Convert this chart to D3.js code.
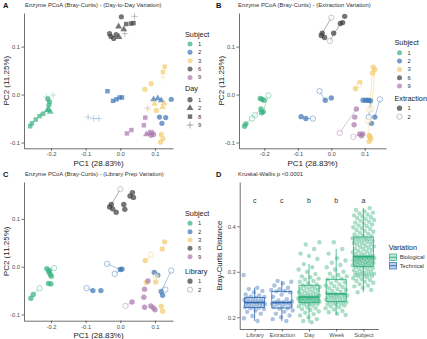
<!DOCTYPE html>
<html>
<head>
<meta charset="utf-8">
<script src="https://cdn.jsdelivr.net/npm/d3@7"></script>
<style>
body { margin: 0; background: #fff; }
svg text { font-family: "Liberation Sans", Arial, sans-serif; }
</style>
</head>
<body>
<svg id="fig" width="427" height="339"></svg>
<script>
var subjects = [1, 2, 3, 6, 9];
var subjectColors = ["#35b07f", "#3a73b5", "#f3cb6b", "#3c3c3c", "#a878ad"];
var dayLevels = [1, 2, 8, 9];
var pc1Ticks = [-0.2, -0.1, 0, 0.1];
var pc2Ticks = [-0.1, 0, 0.1];

// panel A: [PC1, PC2, subject, day]
var dayPoints = [
  [0.003, 0.162, 6, 1], [-0.031, 0.127, 6, 1], [-0.027, 0.121, 6, 1], [-0.019, 0.117, 6, 1], [-0.012, 0.125, 6, 1],
  [-0.005, 0.142, 6, 2], [0.010, 0.136, 6, 2], [-0.004, 0.120, 6, 2],
  [0.017, 0.147, 6, 8], [0.031, 0.148, 6, 8], [0.038, 0.149, 6, 8],
  [0.041, 0.163, 6, 9], [0.013, 0.127, 6, 9],
  [-0.209, -0.009, 1, 1], [-0.204, -0.015, 1, 1], [-0.206, -0.022, 1, 1], [-0.223, -0.040, 1, 1],
  [-0.211, -0.033, 1, 2], [-0.202, -0.036, 1, 2], [-0.207, -0.031, 1, 2],
  [-0.233, -0.045, 1, 8], [-0.244, -0.052, 1, 8], [-0.255, -0.060, 1, 8], [-0.260, -0.066, 1, 8],
  [-0.194, -0.001, 1, 9], [-0.213, -0.005, 1, 9],
  [-0.037, 0.007, 2, 8], [-0.021, -0.013, 2, 8], [-0.011, -0.010, 2, 8], [-0.002, -0.006, 2, 8], [0.005, -0.006, 2, 8],
  [0.096, -0.010, 2, 2], [0.108, -0.008, 2, 2], [0.118, -0.012, 2, 2],
  [0.147, -0.010, 2, 1], [0.113, -0.047, 2, 1], [0.131, -0.048, 2, 1], [0.120, -0.060, 2, 1],
  [-0.093, -0.047, 2, 9], [-0.077, -0.050, 2, 9], [-0.062, -0.050, 2, 9],
  [0.128, 0.058, 3, 8], [0.123, 0.047, 3, 8], [0.123, 0.036, 3, 9],
  [0.089, 0.023, 3, 1], [0.071, 0.011, 3, 1],
  [0.099, -0.019, 3, 2], [0.126, -0.018, 3, 2], [0.104, -0.033, 3, 1], [0.122, -0.026, 3, 2],
  [0.118, -0.083, 3, 1], [0.123, -0.092, 3, 1], [0.116, -0.099, 3, 1], [0.082, -0.032, 3, 9],
  [0.072, -0.048, 9, 8], [0.068, -0.064, 9, 8], [0.032, -0.074, 9, 8], [0.019, -0.081, 9, 8],
  [0.075, -0.083, 9, 2], [0.083, -0.080, 9, 2], [0.089, -0.085, 9, 1], [0.096, -0.083, 9, 1], [0.091, -0.079, 9, 1],
  [0.078, -0.028, 9, 9]
];

// panel B: [PC1, PC2, subject, extraction, pair id (0 = unpaired)]
var extractionPoints = [
  [0.040, 0.163, 6, 1, 0], [0.034, 0.150, 6, 1, 0], [0.027, 0.148, 6, 1, 1], [-0.004, 0.112, 6, 2, 1],
  [0.000, 0.160, 6, 2, 2], [-0.027, 0.128, 6, 1, 2], [-0.030, 0.123, 6, 1, 0], [-0.020, 0.119, 6, 1, 0], [0.007, 0.128, 6, 1, 0],
  [-0.212, -0.008, 1, 1, 0], [-0.207, -0.010, 1, 1, 0], [-0.201, -0.012, 1, 1, 0],
  [-0.188, -0.002, 1, 2, 3], [-0.203, -0.036, 1, 1, 3], [-0.208, -0.038, 1, 1, 0],
  [-0.228, -0.043, 1, 2, 4], [-0.255, -0.061, 1, 1, 4], [-0.237, -0.050, 1, 2, 5], [-0.210, -0.030, 1, 1, 5], [-0.259, -0.066, 1, 1, 0],
  [-0.035, 0.007, 2, 2, 6], [-0.018, -0.012, 2, 1, 6], [0.000, -0.007, 2, 1, 0],
  [-0.090, -0.046, 2, 1, 0], [-0.076, -0.050, 2, 1, 7], [-0.055, -0.050, 2, 2, 7],
  [0.095, -0.012, 2, 1, 0], [0.103, -0.012, 2, 1, 0], [0.110, -0.012, 2, 1, 0],
  [0.145, -0.010, 2, 2, 8], [0.130, -0.047, 2, 1, 8], [0.120, -0.060, 2, 1, 0], [0.112, -0.047, 2, 2, 9], [0.117, -0.013, 2, 1, 9],
  [0.125, 0.057, 3, 1, 0], [0.130, 0.052, 3, 1, 10], [0.120, -0.030, 3, 2, 10], [0.123, 0.045, 3, 1, 11], [0.113, -0.032, 3, 2, 11],
  [0.085, 0.025, 3, 1, 0], [0.072, 0.012, 3, 1, 12], [0.083, 0.020, 3, 2, 12],
  [0.113, -0.085, 3, 1, 0], [0.118, -0.092, 3, 1, 0], [0.113, -0.098, 3, 1, 0], [0.110, -0.055, 3, 2, 13], [0.115, -0.088, 3, 1, 13],
  [0.075, -0.030, 9, 1, 14], [0.025, -0.080, 9, 2, 14], [0.070, -0.047, 9, 1, 0], [0.068, -0.063, 9, 1, 0],
  [0.085, -0.082, 9, 1, 0], [0.090, -0.086, 9, 1, 0], [0.094, -0.082, 9, 1, 15], [0.066, -0.088, 9, 2, 15]
];

// panel C: [PC1, PC2, subject, library, pair id]
var libraryPoints = [
  [0.000, 0.162, 6, 2, 1], [-0.026, 0.130, 6, 1, 1], [-0.031, 0.125, 6, 1, 0], [-0.022, 0.121, 6, 1, 0], [-0.012, 0.114, 6, 1, 0],
  [0.010, 0.130, 6, 1, 0], [0.013, 0.120, 6, 1, 0], [0.028, 0.148, 6, 1, 0], [0.038, 0.145, 6, 1, 0], [0.035, 0.155, 6, 1, 0],
  [-0.212, -0.004, 1, 1, 0], [-0.205, -0.008, 1, 1, 0], [-0.202, -0.016, 1, 1, 0], [-0.199, -0.020, 1, 1, 0],
  [-0.191, -0.003, 1, 2, 2], [-0.206, -0.011, 1, 1, 2],
  [-0.207, -0.035, 1, 1, 0], [-0.200, -0.036, 1, 1, 0],
  [-0.233, -0.045, 1, 2, 3], [-0.251, -0.058, 1, 1, 3], [-0.258, -0.066, 1, 1, 0],
  [-0.038, 0.006, 2, 2, 4], [-0.016, -0.015, 2, 2, 5], [0.000, -0.006, 2, 1, 4], [0.005, -0.005, 2, 1, 5],
  [-0.097, -0.045, 2, 2, 6], [-0.079, -0.050, 2, 1, 6], [-0.056, -0.050, 2, 1, 0],
  [0.098, -0.012, 2, 1, 0], [0.108, -0.018, 2, 1, 0],
  [0.147, -0.008, 2, 2, 7], [0.118, -0.052, 2, 1, 7], [0.122, -0.060, 2, 1, 0], [0.130, -0.048, 2, 2, 0],
  [0.128, 0.052, 3, 1, 0], [0.121, 0.037, 3, 1, 0], [0.088, 0.025, 3, 2, 8], [0.072, 0.013, 3, 1, 8],
  [0.102, -0.032, 3, 1, 0], [0.075, -0.033, 3, 1, 0], [0.103, -0.020, 3, 2, 0],
  [0.118, -0.083, 3, 1, 0], [0.122, -0.093, 3, 1, 0],
  [0.080, -0.030, 9, 1, 0], [0.070, -0.047, 9, 1, 0], [0.068, -0.064, 9, 1, 0], [0.034, -0.074, 9, 1, 9], [0.015, -0.082, 9, 2, 9],
  [0.070, -0.085, 9, 1, 0], [0.088, -0.082, 9, 1, 0], [0.095, -0.086, 9, 1, 0], [0.100, -0.090, 9, 1, 0]
];

// panel D
var variationCats = ["Library", "Extraction", "Day", "Week", "Subject"];
var variationType = ["Technical", "Technical", "Biological", "Biological", "Biological"];
var sigLetters = ["c", "c", "b", "b", "a"];
var distTicks = [0.2, 0.3, 0.4];
var libraryDist = [0.293, 0.265, 0.262, 0.258, 0.255, 0.25, 0.248, 0.246, 0.245, 0.243, 0.242, 0.24, 0.239, 0.238, 0.236, 0.235, 0.234, 0.233,
  0.232, 0.231, 0.23, 0.229, 0.228, 0.226, 0.225, 0.223, 0.222, 0.221, 0.22, 0.218, 0.215, 0.212, 0.208, 0.203, 0.198, 0.192];
var extractionDist = [0.28, 0.278, 0.275, 0.27, 0.265, 0.262, 0.26, 0.258, 0.257, 0.255, 0.25, 0.245, 0.24, 0.237, 0.235, 0.234, 0.233,
  0.232, 0.231, 0.23, 0.229, 0.228, 0.226, 0.224, 0.222, 0.22, 0.219, 0.215, 0.212, 0.208, 0.204, 0.2, 0.196, 0.192];
var dayDist = [0.189, 0.192, 0.196, 0.2, 0.204, 0.207, 0.21, 0.213, 0.216, 0.218, 0.22, 0.222, 0.224, 0.226, 0.228, 0.229, 0.23, 0.231, 0.232,
  0.233, 0.234, 0.235, 0.235, 0.236, 0.237, 0.237, 0.238, 0.239, 0.239, 0.24, 0.24, 0.241, 0.242, 0.242, 0.243, 0.243, 0.244, 0.244,
  0.245, 0.246, 0.247, 0.248, 0.249, 0.25, 0.252, 0.253, 0.255, 0.256, 0.258, 0.26, 0.261, 0.263, 0.264, 0.266, 0.267, 0.268, 0.27,
  0.272, 0.275, 0.278, 0.28, 0.283, 0.285, 0.288, 0.29, 0.295, 0.3, 0.305, 0.31, 0.317, 0.328, 0.335, 0.34, 0.35, 0.36, 0.365];
var weekDist = [0.205, 0.208, 0.211, 0.214, 0.217, 0.22, 0.222, 0.224, 0.226, 0.228, 0.229, 0.23, 0.232, 0.233, 0.234,
  0.235, 0.236, 0.238, 0.239, 0.24, 0.242, 0.243, 0.244, 0.245, 0.246, 0.247, 0.248, 0.249, 0.25, 0.251,
  0.252, 0.254, 0.256, 0.258, 0.26, 0.262, 0.264, 0.266, 0.268, 0.27, 0.272, 0.275, 0.277, 0.28, 0.283,
  0.285, 0.288, 0.29, 0.293, 0.296, 0.3, 0.305, 0.31, 0.315, 0.32, 0.325, 0.33, 0.34, 0.35, 0.365];
var subjectDist = [0.255, 0.26, 0.265, 0.268, 0.27, 0.273, 0.276, 0.278, 0.28, 0.282, 0.284, 0.286, 0.288, 0.29, 0.291, 0.292, 0.293, 0.294,
  0.295, 0.296, 0.297, 0.298, 0.3, 0.301, 0.303, 0.305, 0.306, 0.308, 0.31, 0.311,
  0.312, 0.313, 0.314, 0.315, 0.316, 0.316, 0.317, 0.318, 0.319, 0.32, 0.32, 0.321, 0.322, 0.323, 0.324, 0.325, 0.325, 0.326,
  0.327, 0.328, 0.328, 0.329, 0.33, 0.33, 0.331, 0.331, 0.332, 0.332, 0.333, 0.333,
  0.334, 0.335, 0.337, 0.338, 0.34, 0.341, 0.343, 0.345, 0.346, 0.348, 0.35, 0.351, 0.353, 0.355, 0.356, 0.358, 0.36, 0.361,
  0.363, 0.364, 0.366, 0.367, 0.368, 0.37, 0.371, 0.372, 0.373, 0.374, 0.375, 0.376,
  0.378, 0.38, 0.382, 0.384, 0.386, 0.388, 0.39, 0.392, 0.394, 0.396, 0.398, 0.4, 0.402, 0.404, 0.406, 0.408, 0.41, 0.412,
  0.414, 0.416, 0.418, 0.42, 0.422, 0.424, 0.426, 0.428, 0.43, 0.433, 0.436, 0.44];
var distValues = [libraryDist, extractionDist, dayDist, weekDist, subjectDist];
var variationColors = {Biological: "#2bad78", Technical: "#3069b3"};

var svg = d3.select("#fig");
var color = d3.scaleOrdinal().domain(subjects).range(subjectColors);

function styleAxis(g) {
  g.selectAll("path, line").attr("stroke", "#333").attr("stroke-width", 0.7);
  g.selectAll("text").attr("font-size", 5.8).attr("fill", "#4d4d4d");
}

function heading(x, y, letter, title) {
  svg.append("text").attr("x", x).attr("y", y).attr("font-size", 7.5).attr("font-weight", "bold")
    .attr("fill", "#111").text(letter);
  svg.append("text").attr("x", x + 22).attr("y", y - 1).attr("font-size", 5.9).attr("fill", "#333").text(title);
}

function pcoaAxes(x, y) {
  var fmt = function(d) { return d.toFixed(1); };
  svg.append("g").attr("transform", "translate(0," + y.range()[0] + ")")
    .call(d3.axisBottom(x).tickValues(pc1Ticks).tickFormat(fmt).tickSize(2.5).tickSizeOuter(0).tickPadding(1.5))
    .call(styleAxis);
  svg.append("g").attr("transform", "translate(" + x.range()[0] + ",0)")
    .call(d3.axisLeft(y).tickValues(pc2Ticks).tickFormat(fmt).tickSize(2.5).tickSizeOuter(0).tickPadding(1.5))
    .call(styleAxis);
  var cx = (x.range()[0] + x.range()[1]) / 2;
  var cy = (y.range()[0] + y.range()[1]) / 2;
  svg.append("text").attr("x", cx).attr("y", y.range()[0] + 17.5).attr("text-anchor", "middle")
    .attr("font-size", 8).attr("fill", "#1a1a1a").text("PC1 (28.83%)");
  svg.append("text").attr("transform", "translate(" + (x.range()[0] - 15) + "," + cy + ") rotate(-90)")
    .attr("text-anchor", "middle").attr("font-size", 8).attr("fill", "#1a1a1a").text("PC2 (11.25%)");
}

function subjectLegend(lx, ty) {
  svg.append("text").attr("x", lx).attr("y", ty + 2.6).attr("font-size", 7.3).attr("fill", "#1a1a1a").text("Subject");
  subjects.forEach(function(s, i) {
    var yy = ty + 10 + i * 8.35;
    svg.append("circle").attr("cx", lx + 5).attr("cy", yy).attr("r", 2.5)
      .attr("fill", color(s)).attr("fill-opacity", 0.7);
    svg.append("text").attr("x", lx + 13).attr("y", yy + 2).attr("font-size", 5.8).attr("fill", "#333").text(s);
  });
}

function drawShape(g, kind, cx, cy, fill, op) {
  if (kind === 9) {
    g.append("path").attr("d", "M" + (cx - 3.4) + "," + cy + "H" + (cx + 3.4) + "M" + cx + "," + (cy - 3.4) + "V" + (cy + 3.4))
      .attr("stroke", fill).attr("stroke-width", 0.6).attr("stroke-opacity", op);
  } else if (kind === 1) {
    g.append("circle").attr("cx", cx).attr("cy", cy).attr("r", 2.6).attr("fill", fill).attr("fill-opacity", op);
  } else {
    var sym = kind === 2 ? d3.symbolTriangle : d3.symbolSquare;
    g.append("path").attr("transform", "translate(" + cx + "," + cy + ")")
      .attr("d", d3.symbol(sym, 20)()).attr("fill", fill).attr("fill-opacity", op);
  }
}

// ---- Panel A ----
(function() {
  var x = d3.scaleLinear().domain([-0.2778, 0.152]).range([24, 173]);
  var y = d3.scaleLinear().domain([-0.112, 0.170]).range([148.3, 13]);
  heading(3, 7.5, "A", "Enzyme PCoA (Bray-Curtis) - (Day-to-Day Variation)");
  pcoaAxes(x, y);
  var g = svg.append("g");
  dayPoints.forEach(function(d) {
    drawShape(g, d[3], x(d[0]), y(d[1]), color(d[2]), d[3] === 9 ? 0.5 : 0.7);
  });
  subjectLegend(185, 34);
  svg.append("text").attr("x", 185).attr("y", 90.6).attr("font-size", 7.3).attr("fill", "#1a1a1a").text("Day");
  dayLevels.forEach(function(dl, i) {
    var yy = 99.7 + i * 8.45;
    drawShape(svg, dl, 190, yy, "#444", 0.75);
    svg.append("text").attr("x", 198).attr("y", yy + 2).attr("font-size", 5.8).attr("fill", "#333").text(dl);
  });
})();

function pairedPanel(pts, x, y) {
  var g = svg.append("g");
  var pairs = d3.group(pts.filter(function(d) { return d[4] > 0; }), function(d) { return d[4]; });
  pairs.forEach(function(ps) {
    if (ps.length < 2) return;
    g.append("line").attr("x1", x(ps[0][0])).attr("y1", y(ps[0][1]))
      .attr("x2", x(ps[1][0])).attr("y2", y(ps[1][1]))
      .attr("stroke", color(ps[0][2])).attr("stroke-width", 0.6).attr("stroke-opacity", 0.7);
  });
  pts.forEach(function(d) {
    var c = g.append("circle").attr("cx", x(d[0])).attr("cy", y(d[1])).attr("r", 2.7);
    if (d[3] === 1) c.attr("fill", color(d[2])).attr("fill-opacity", 0.7);
    else c.attr("fill", "#fff").attr("fill-opacity", 0.5).attr("stroke", d[2] === 6 ? "#888" : color(d[2]))
      .attr("stroke-opacity", 0.75).attr("stroke-width", 0.6);
  });
}

function twoLevelLegend(lx, ty, title) {
  svg.append("text").attr("x", lx).attr("y", ty + 2.6).attr("font-size", 7.3).attr("fill", "#1a1a1a").text(title);
  [1, 2].forEach(function(lv, i) {
    var yy = ty + 9.5 + i * 8.5;
    var c = svg.append("circle").attr("cx", lx + 5).attr("cy", yy).attr("r", 2.6);
    if (lv === 1) c.attr("fill", "#444").attr("fill-opacity", 0.75);
    else c.attr("fill", "none").attr("stroke", "#999").attr("stroke-width", 0.6);
    svg.append("text").attr("x", lx + 13).attr("y", yy + 2).attr("font-size", 5.8).attr("fill", "#333").text(lv);
  });
}

// ---- Panel B ----
(function() {
  var x = d3.scaleLinear().domain([-0.2755, 0.1633]).range([239, 386]);
  var y = d3.scaleLinear().domain([-0.112, 0.170]).range([148.3, 13]);
  heading(216, 7.5, "B", "Enzyme PCoA (Bray-Curtis) - (Extraction Variation)");
  pcoaAxes(x, y);
  pairedPanel(extractionPoints, x, y);
  subjectLegend(394.5, 42.7);
  twoLevelLegend(394.5, 98.7, "Extraction");
})();

// ---- Panel C ----
(function() {
  var x = d3.scaleLinear().domain([-0.2778, 0.152]).range([24, 173]);
  var y = d3.scaleLinear().domain([-0.113, 0.1772]).range([320.7, 182]);
  heading(3, 177, "C", "Enzyme PCoA (Bray-Curtis) - (Library Prep Variation)");
  pcoaAxes(x, y);
  pairedPanel(libraryPoints, x, y);
  subjectLegend(185, 213.3);
  twoLevelLegend(185, 271.7, "Library");
})();

// ---- Panel D ----
(function() {
  var x = d3.scalePoint().domain(variationCats).range([239.7, 378.3]).padding(0.55);
  var y = d3.scaleLinear().domain([0.1743, 0.4974]).range([329, 182]);
  heading(216, 177, "D", "Kruskal-Wallis p <0.0001");
  svg.append("g").attr("transform", "translate(0,329)")
    .call(d3.axisBottom(x).tickSize(2.5).tickSizeOuter(0).tickPadding(1.5))
    .call(styleAxis);
  svg.append("g").attr("transform", "translate(239.7,0)")
    .call(d3.axisLeft(y).tickValues(distTicks).tickFormat(function(d) { return d.toFixed(1); })
      .tickSize(2.5).tickSizeOuter(0).tickPadding(1.5))
    .call(styleAxis);
  svg.append("text").attr("transform", "translate(222," + 255.5 + ") rotate(-90)")
    .attr("text-anchor", "middle").attr("font-size", 7.6).attr("fill", "#1a1a1a").text("Bray-Curtis Distance");

  var g = svg.append("g");
  variationCats.forEach(function(cat, ci) {
    var col = variationColors[variationType[ci]];
    var vals = distValues[ci];
    var cx = x(cat);
    vals.forEach(function(v, i) {
      var off = (((i * 0.618034 + ci * 0.31) % 1) - 0.5) * 22;
      g.append("circle").attr("cx", cx + off).attr("cy", y(v)).attr("r", 2.2)
        .attr("fill", col).attr("fill-opacity", 0.4);
    });
  });
  variationCats.forEach(function(cat, ci) {
    var col = variationColors[variationType[ci]];
    var s = distValues[ci].slice().sort(d3.ascending);
    var q1 = d3.quantile(s, 0.25), q2 = d3.quantile(s, 0.5), q3 = d3.quantile(s, 0.75);
    var iqr = q3 - q1;
    var lo = d3.min(s.filter(function(v) { return v >= q1 - 1.5 * iqr; }));
    var hi = d3.max(s.filter(function(v) { return v <= q3 + 1.5 * iqr; }));
    var cx = x(cat), bw = 20;
    g.append("line").attr("x1", cx).attr("x2", cx).attr("y1", y(hi)).attr("y2", y(q3))
      .attr("stroke", col).attr("stroke-width", 0.8);
    g.append("line").attr("x1", cx).attr("x2", cx).attr("y1", y(q1)).attr("y2", y(lo))
      .attr("stroke", col).attr("stroke-width", 0.8);
    g.append("rect").attr("x", cx - bw / 2).attr("y", y(q3)).attr("width", bw).attr("height", y(q1) - y(q3))
      .attr("fill", "none").attr("stroke", col).attr("stroke-width", 0.8);
    g.append("line").attr("x1", cx - bw / 2).attr("x2", cx + bw / 2).attr("y1", y(q2)).attr("y2", y(q2))
      .attr("stroke", col).attr("stroke-width", 1.6);
    svg.append("text").attr("x", cx).attr("y", y(0.456) + 2.5).attr("text-anchor", "middle")
      .attr("font-size", 7).attr("fill", "#333").text(sigLetters[ci]);
  });

  svg.append("text").attr("x", 388.7).attr("y", 249.9).attr("font-size", 7.3).attr("fill", "#1a1a1a").text("Variation");
  ["Biological", "Technical"].forEach(function(t, i) {
    var yy = 257.3 + i * 8.4;
    var col = variationColors[t];
    svg.append("rect").attr("x", 389.5).attr("y", yy - 3.3).attr("width", 7).attr("height", 6.6)
      .attr("fill", col).attr("fill-opacity", 0.3).attr("stroke", col).attr("stroke-width", 0.7);
    svg.append("line").attr("x1", 389.5).attr("x2", 396.5).attr("y1", yy).attr("y2", yy)
      .attr("stroke", col).attr("stroke-width", 0.9);
    svg.append("text").attr("x", 399.7).attr("y", yy + 2).attr("font-size", 5.8).attr("fill", "#333").text(t);
  });
})();
</script>
</body>
</html>
